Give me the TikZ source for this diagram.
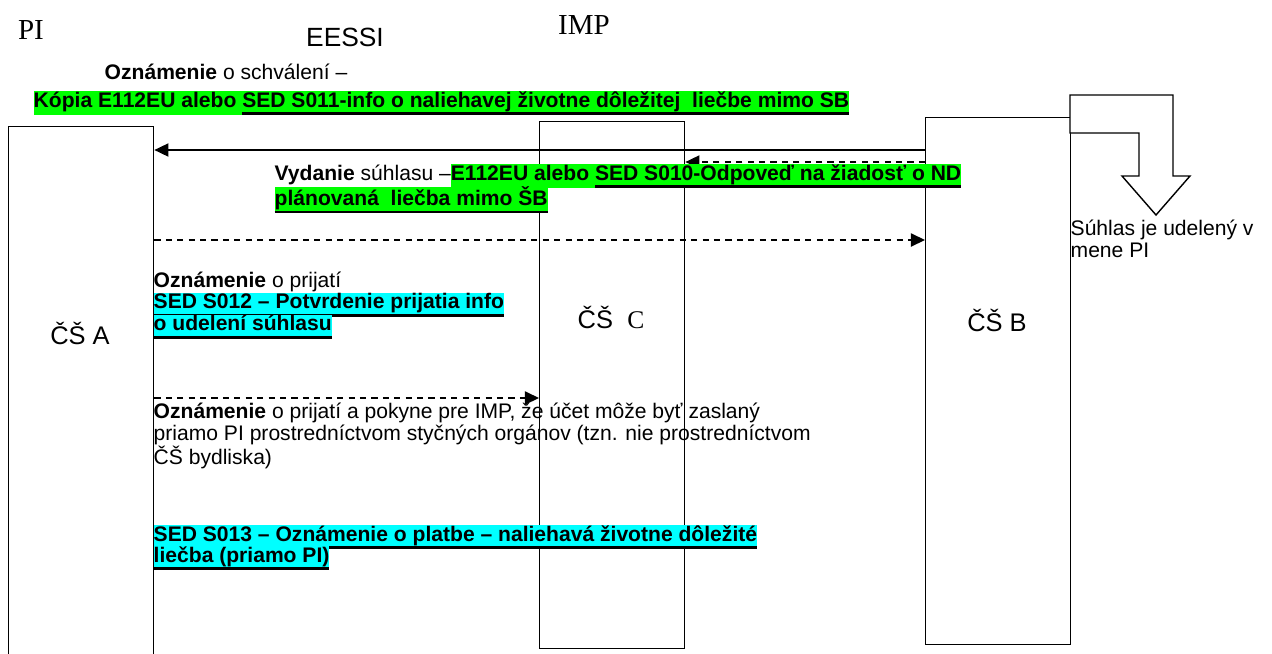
\documentclass[tikz,border=0pt]{standalone}
\usepackage{fontspec}
\setmainfont{Liberation Sans}
\newfontfamily\tms{Liberation Serif}
\usetikzlibrary{arrows.meta}
\definecolor{hlgreen}{RGB}{0,255,0}
\definecolor{hlcyan}{RGB}{0,255,255}
\newsavebox{\ulbox}
\newcommand{\ulbar}[1]{\sbox{\ulbox}{#1}\rlap{\rule[-4.4pt]{\wd\ulbox}{1.5pt}}\usebox{\ulbox}}
\newcommand{\hlg}[1]{{\setlength{\fboxsep}{0pt}\colorbox{hlgreen}{\strut #1}}}
\newcommand{\hlc}[1]{{\setlength{\fboxsep}{0pt}\colorbox{hlcyan}{\strut #1}}}
\tikzset{every path/.style={line width=0.8pt}}

\begin{document}
\begin{tikzpicture}[x=0.02cm,y=-0.02cm,
    lane/.style={draw,minimum width=2.9cm,anchor=north west,inner sep=0},
    lanelbl/.style={font=\fontsize{14.5}{16}\selectfont},
    msg/.style={anchor=west,inner sep=0,font=\fontsize{12}{12.5}\selectfont},
    arr/.style={-{Triangle[length=8pt,width=7.5pt]}},
    darr/.style={arr,dash pattern=on 3.5pt off 3pt}]
    \useasboundingbox (0,0) rectangle (1272,653);

    % titles
    \node[font=\tms\fontsize{16.5}{18}\selectfont] (pi) at (31,30) {PI};
    \node[font=\fontsize{15}{17}\selectfont] (eessi) at (345,37) {EESSI};
    \node[font=\tms\fontsize{16.5}{18}\selectfont] (imp) at (584,25) {IMP};

    % lanes
    \node[lane,minimum height=12cm] (A) at (8,126) {};
    \node[lane,minimum height=10.54cm] (C) at (539,121) {};
    \node[lane,minimum height=10.54cm] (B) at (925,117) {};
    \node[lanelbl] (Alab) at (80,333) {ČŠ A};
    \node[lanelbl] (Clab) at (611,317) {ČŠ\ \ {\tms C}};
    \node[lanelbl] (Blab) at (997,320) {ČŠ B};

    % bent arrow
    \draw[fill=white] (1070,95) -- (1173,95) -- (1173,176) -- (1190,176) -- (1156,215)
      -- (1122,176) -- (1139,176) -- (1139,133) -- (1070,133) -- cycle;

    % messages
    \coordinate (r1) at (0,150);
    \coordinate (r2) at (0,162);
    \coordinate (r3) at (0,240);
    \coordinate (r4) at (0,398);
    \draw[arr] (B.west |- r1) -- (A.east |- r1);
    \draw[darr] (B.west |- r2) -- (C.east |- r2);
    \draw[darr] (A.east |- r3) -- (B.west |- r3);
    \draw[darr] (A.east |- r4) -- (C.west |- r4);

    \node[msg] (m1a) at (104,75) {\strut\textbf{Oznámenie} o schválení –};
    \node[msg] (m1b) at (33,103) {\hlg{\textbf{Kópia E112EU alebo \ulbar{SED S011-info o naliehavej životne dôležitej\ \ liečbe mimo SB}}}};
    \node[msg] (m2a) at (274,176) {\strut\textbf{Vydanie} súhlasu –\hlg{\textbf{E112EU alebo \ulbar{SED S010-Odpoveď na žiadosť o ND}}}};
    \node[msg] (m2b) at (274,200) {\hlg{\textbf{\ulbar{plánovaná\ \ liečba mimo ŠB}}}};
    \node[msg,anchor=north west,align=left] (note) at (1070,219) {Súhlas je udelený v\\mene PI};
    \node[msg] (m3a) at (153,283) {\strut\textbf{Oznámenie} o prijatí};
    \node[msg] (m3b) at (153,305) {\hlc{\textbf{\ulbar{SED S012 – Potvrdenie prijatia info}}}};
    \node[msg] (m3c) at (153,327) {\hlc{\textbf{\ulbar{o udelení súhlasu}}}};
    \node[msg,anchor=north west,align=left] (m4) at (153,402)
      {\textbf{Oznámenie} o prijatí a pokyne pre IMP, že účet môže byť zaslaný\\
       priamo PI prostredníctvom styčných orgánov (tzn. nie prostredníctvom\\
       ČŠ bydliska)};
    \node[msg] (m5a) at (153,537) {\hlc{\textbf{\ulbar{SED S013 – Oznámenie o platbe – naliehavá životne dôležité}}}};
    \node[msg] (m5b) at (153,558) {\hlc{\textbf{\ulbar{liečba (priamo PI)}}}};
\end{tikzpicture}
\end{document}
